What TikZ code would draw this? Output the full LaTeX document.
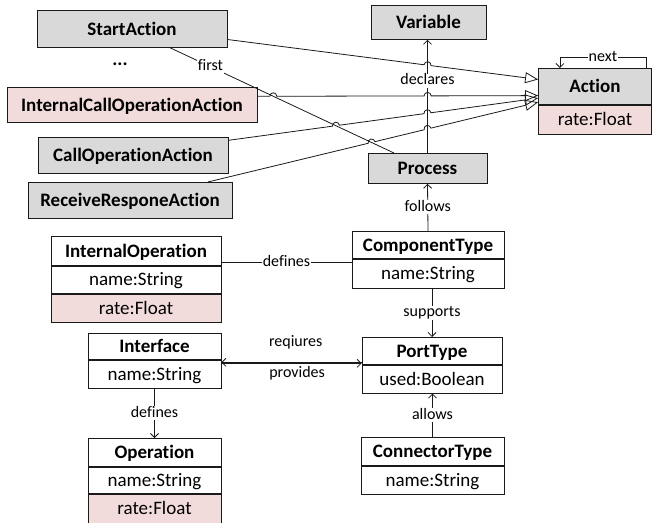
\documentclass[tikz,border=0pt]{standalone}
\usepackage{fontspec}
\setmainfont{Carlito}[Ligatures={NoCommon}]
\usetikzlibrary{arrows.meta,calc}

\definecolor{hdrgray}{HTML}{D9D9D9}
\definecolor{attrpink}{HTML}{F2DCDB}
\definecolor{edge}{HTML}{1A1A1A}

\begin{document}
\begin{tikzpicture}[x=1pt,y=-1pt, line width=0.8pt,
  cls/.style={draw=edge, inner sep=0pt, anchor=north, text height=12.2pt, text depth=0pt,
    font=\bfseries\fontsize{19}{21}\selectfont},
  attr/.style={draw=edge, inner sep=0pt, anchor=north, text height=12.2pt, text depth=0pt,
    font=\fontsize{19}{21}\selectfont},
  grayf/.style={fill=hdrgray},
  pinkf/.style={fill=attrpink},
  lbl/.style={fill=white, draw=none, inner sep=1pt, text height=10pt, text depth=2pt,
    font=\fontsize{16}{18}\selectfont},
  wire/.style={draw=edge},
  uml/.style={draw=edge, -{Triangle[open, length=13pt, width=11pt]}},
  assoc/.style={draw=edge, -{Straight Barb[length=4pt, width=8pt]}}]
\useasboundingbox (0,0) rectangle (652,522);

% ---------- action hierarchy ----------
\node[cls, grayf, minimum width=190pt, minimum height=37pt] (sa) at (132,10) {StartAction};
\node[font=\bfseries\fontsize{19}{21}\selectfont] (dots) at (120,64) {...};
\node[cls, pinkf, minimum width=250pt, minimum height=35pt] (ica) at (132,87) {InternalCallOperationAction};
\node[cls, grayf, minimum width=190pt, minimum height=36pt] (coa) at (133,137) {CallOperationAction};
\node[cls, grayf, minimum width=204pt, minimum height=36pt] (rra) at (130,182) {ReceiveResponeAction};

\node[cls, grayf, minimum width=115pt, minimum height=34pt] (var) at (428.5,5) {Variable};
\node[cls, grayf, minimum width=113pt, minimum height=36pt] (act) at (595,68) {Action};
\node[attr, pinkf, minimum width=113pt, minimum height=29pt] (act-rate) at (act.south) {rate:Float};
\node[cls, grayf, minimum width=119pt, minimum height=30pt] (proc) at (427.5,153) {Process};

% ---------- component model ----------
\node[cls, minimum width=152pt, minimum height=27pt] (ct) at (428,231) {ComponentType};
\node[attr, minimum width=152pt, minimum height=29pt] (ct-name) at (ct.south) {name:String};

\node[cls, minimum width=170pt, minimum height=29pt] (io) at (136,236) {InternalOperation};
\node[attr, minimum width=170pt, minimum height=27pt] (io-name) at (io.south) {name:String};
\node[attr, pinkf, minimum width=170pt, minimum height=28pt] (io-rate) at (io-name.south) {rate:Float};

\node[cls, minimum width=133pt, minimum height=26pt] (if) at (154.5,333) {Interface};
\node[attr, minimum width=133pt, minimum height=28pt] (if-name) at (if.south) {name:String};

\node[cls, minimum width=133pt, minimum height=28pt] (op) at (154.5,438) {Operation};
\node[attr, minimum width=133pt, minimum height=26pt] (op-name) at (op.south) {name:String};
\node[attr, pinkf, minimum width=133pt, minimum height=29pt] (op-rate) at (op-name.south) {rate:Float};

\node[cls, minimum width=140pt, minimum height=27pt] (pt) at (432,337) {PortType};
\node[attr, minimum width=140pt, minimum height=28pt] (pt-used) at (pt.south) {used:Boolean};

\node[cls, minimum width=143pt, minimum height=28pt] (cnt) at (432.5,437) {ConnectorType};
\node[attr, minimum width=143pt, minimum height=28pt] (cnt-name) at (cnt.south) {name:String};

% ---------- end points ----------
\coordinate (fA) at ($(sa.south west)!0.70!(sa.south east)$);
\coordinate (fB) at ($(proc.north west)!0.22!(proc.north east)$);
\coordinate (dA) at (proc.north);
\coordinate (dB) at (proc.north |- var.south);

\coordinate (saA) at ($(sa.north east)!0.78!(sa.south east)$);
\coordinate (saB) at ($(act.north west)!0.31!(act.south west)$);
\coordinate (icA) at ($(ica.north east)!0.26!(ica.south east)$);
\coordinate (icB) at ($(act.north west)!0.75!(act.south west)$);
\coordinate (coA) at ($(coa.north east)!0.09!(coa.south east)$);
\coordinate (coB) at ($(act.north west)!0.82!(act.south west)$);
\coordinate (rrA) at ($(rra.north west)!0.88!(rra.north east)$);
\coordinate (rrB) at ($(act.north west)!0.93!(act.south west)$);

% crossings
\coordinate (saX) at (intersection of saA--saB and dA--dB);
\coordinate (icX1) at (intersection of icA--icB and fA--fB);
\coordinate (icX2) at (intersection of icA--icB and dA--dB);
\coordinate (coX1) at (intersection of coA--coB and fA--fB);
\coordinate (coX2) at (intersection of coA--coB and dA--dB);
\coordinate (rrX1) at (intersection of rrA--rrB and fA--fB);
\coordinate (rrX2) at (intersection of rrA--rrB and dA--dB);

% ---------- straight associations ----------
\draw[wire] (fA) -- node[lbl, pos=0.18] {first} (fB);
\draw[assoc] (dA) -- node[lbl, pos=0.64] {declares} (dB);

% ---------- generalisations with line jumps ----------
\draw[uml] let \p1=($(saB)-(saA)$), \n1={atan2(\y1,\x1)} in
  (saA) -- ($(saX)!3.5pt!(saA)$) arc[start angle=\n1+180, end angle=\n1, radius=3.5pt] -- (saB);
\draw[uml] let \p1=($(icB)-(icA)$), \n1={atan2(\y1,\x1)} in
  (icA) -- ($(icX1)!3.5pt!(icA)$) arc[start angle=\n1+180, end angle=\n1, radius=3.5pt]
  -- ($(icX2)!3.5pt!(icA)$) arc[start angle=\n1+180, end angle=\n1, radius=3.5pt] -- (icB);
\draw[uml] let \p1=($(coB)-(coA)$), \n1={atan2(\y1,\x1)} in
  (coA) -- ($(coX1)!3.5pt!(coA)$) arc[start angle=\n1+180, end angle=\n1, radius=3.5pt]
  -- ($(coX2)!3.5pt!(coA)$) arc[start angle=\n1+180, end angle=\n1, radius=3.5pt] -- (coB);
\draw[uml] let \p1=($(rrB)-(rrA)$), \n1={atan2(\y1,\x1)} in
  (rrA) -- ($(rrX1)!3.5pt!(rrA)$) arc[start angle=\n1+180, end angle=\n1, radius=3.5pt]
  -- ($(rrX2)!3.5pt!(rrA)$) arc[start angle=\n1+180, end angle=\n1, radius=3.5pt] -- (rrB);

% self association on Action
\draw[assoc] ($(act.north east)+(-6,0)$) -- ++(0,-11) -- node[lbl] {next} ++(-86,0) -- ++(0,11);

% ---------- component associations ----------
\draw[assoc] (ct.north) -- node[lbl] {follows} (proc.south);
\coordinate (dfA) at ($(io.north east)!0.9!(io.south east)$);
\draw[wire] (dfA) -- node[lbl] {defines} (dfA -| ct.west);
\draw[assoc] (pt.north |- ct-name.south) -- node[lbl] {supports} (pt.north);
\draw[assoc] (cnt.north) -- node[lbl] {allows} (cnt.north |- pt-used.south);
\draw[assoc] (if-name.south) -- node[lbl] {defines} (op.north);

% required and provided interfaces share one route between the boxes
\coordinate (rq) at ($(pt.south west)+(0,-2.5)$);
\coordinate (pv) at ($(if.south east)+(0,3.5)$);
\draw[assoc] (rq) -- node[lbl, pos=0.47, yshift=19.5pt, fill=none] {reqiures} (rq -| if.east);
\draw[assoc] (pv) -- node[lbl, pos=0.54, yshift=-10.5pt, fill=none] {provides} (pv -| pt.west);
\end{tikzpicture}
\end{document}
